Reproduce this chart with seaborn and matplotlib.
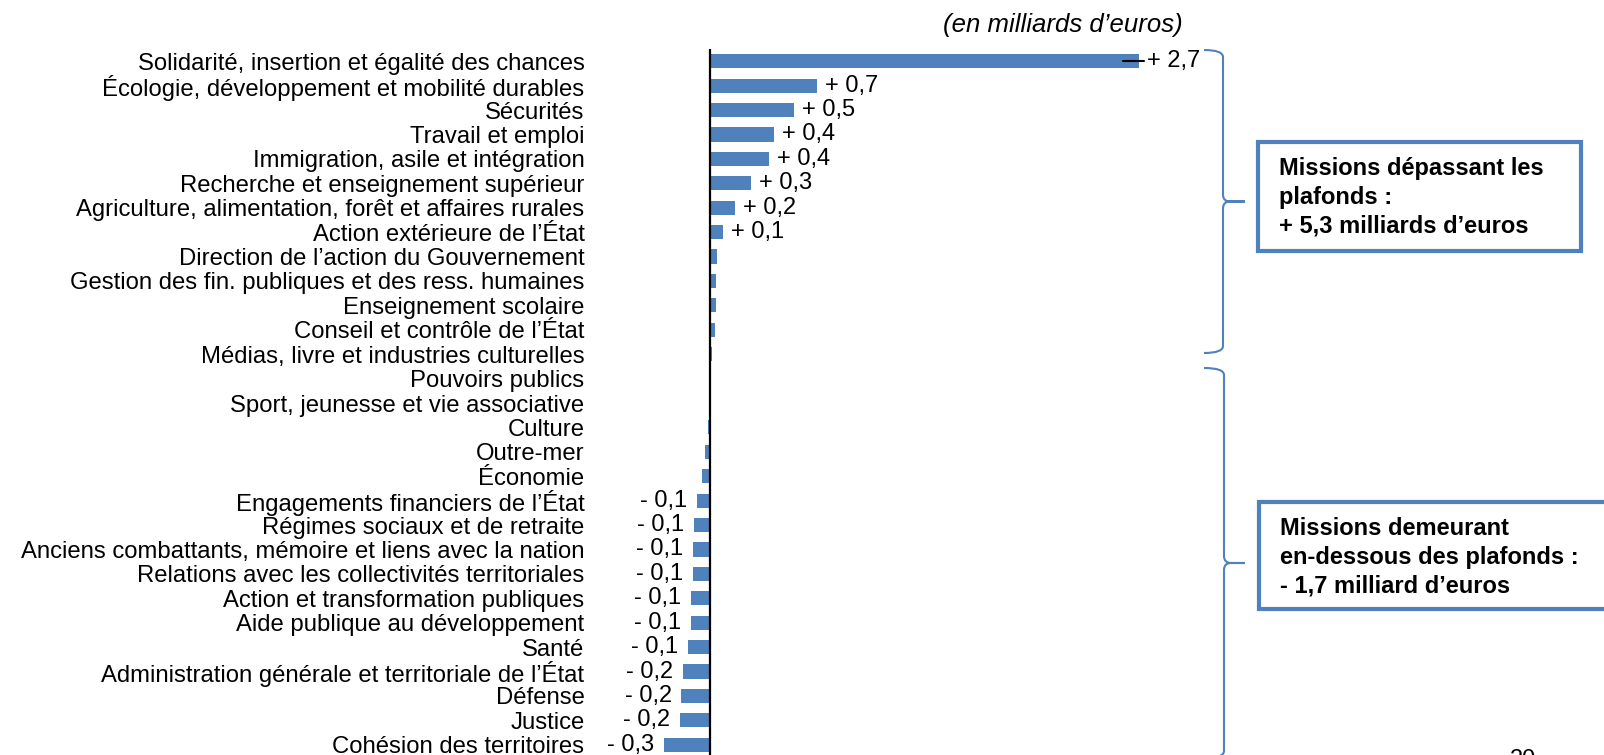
import matplotlib
matplotlib.use("Agg")
import matplotlib.pyplot as plt
import seaborn as sns
import pandas as pd
from matplotlib.path import Path
from matplotlib.patches import PathPatch, Rectangle

# ---------------- data ----------------
categories = [
    "Solidarité, insertion et égalité des chances",
    "Écologie, développement et mobilité durables",
    "Sécurités",
    "Travail et emploi",
    "Immigration, asile et intégration",
    "Recherche et enseignement supérieur",
    "Agriculture, alimentation, forêt et affaires rurales",
    "Action extérieure de l’État",
    "Direction de l’action du Gouvernement",
    "Gestion des fin. publiques et des ress. humaines",
    "Enseignement scolaire",
    "Conseil et contrôle de l’État",
    "Médias, livre et industries culturelles",
    "Pouvoirs publics",
    "Sport, jeunesse et vie associative",
    "Culture",
    "Outre-mer",
    "Économie",
    "Engagements financiers de l’État",
    "Régimes sociaux et de retraite",
    "Anciens combattants, mémoire et liens avec la nation",
    "Relations avec les collectivités territoriales",
    "Action et transformation publiques",
    "Aide publique au développement",
    "Santé",
    "Administration générale et territoriale de l’État",
    "Défense",
    "Justice",
    "Cohésion des territoires",
]
values = [2.70, 0.67, 0.53, 0.40, 0.37, 0.26, 0.16, 0.08, 0.045, 0.04, 0.04,
          0.03, 0.013, 0.0, 0.0, -0.01, -0.033, -0.048, -0.08, -0.10, -0.105,
          -0.11, -0.12, -0.12, -0.14, -0.17, -0.18, -0.19, -0.29]

title_text = "(en milliards d’euros)"
box1_lines = ["Missions dépassant les", "plafonds :", "+ 5,3 milliards d’euros"]
box2_lines = ["Missions demeurant", "en-dessous des plafonds :", "- 1,7 milliard d’euros"]
page_number = "20"

BLUE = "#4F81BD"

# ---------------- figure ----------------
sns.set_theme(style="white")
plt.rcParams['font.family'] = ['Liberation Sans', 'DejaVu Sans']

W, H = 1604, 755
fig = plt.figure(figsize=(W / 100, H / 100), dpi=100)


def fx(px):
    return px / W


def fy(py):
    return 1 - py / H


ax = fig.add_axes([fx(590), fy(757), fx(1200) - fx(590), fy(49) - fy(757)])
df = pd.DataFrame({"mission": categories, "ecart": values})
sns.barplot(data=df, x="ecart", y="mission", orient="h", color=BLUE,
            saturation=1, width=0.58, linewidth=0, ax=ax)

zero_px, unit_px = 710, 159.0
ax.set_xlim((590 - zero_px) / unit_px, (1200 - zero_px) / unit_px)
ax.set_ylim(len(categories) - 0.5, -0.5)
for s in ax.spines.values():
    s.set_visible(False)
ax.axvline(0, color="black", lw=1.6, zorder=3)
ax.set_xticks([])
ax.set_xlabel("")
ax.set_ylabel("")
ax.tick_params(axis="y", length=0, pad=4, labelsize=17.2, labelcolor="black")

# value labels
vmax = max(values)
for i, v in enumerate(values):
    r = round(v, 1)
    if r == 0:
        continue
    txt = ("+ " if r > 0 else "- ") + f"{abs(r):.1f}".replace(".", ",")
    if r > 0:
        ax.annotate(txt, (v, i), xytext=(5.8, 0), textcoords="offset points",
                    ha="left", va="center", fontsize=17, color="black")
    else:
        ax.annotate(txt, (v, i), xytext=(-7, 0), textcoords="offset points",
                    ha="right", va="center", fontsize=17, color="black")
    if v == vmax:
        ax.plot([v - 0.1, v + 0.03], [i, i], color="black", lw=1.5, zorder=4)

# title
fig.text(fx(1183), fy(25), title_text, ha="right", va="center",
         style="italic", fontsize=18.5, color="black")


# braces
def brace(x_tip, x_line, x_point, y_top, y_bot, r=7):
    y_mid = (y_top + y_bot) / 2
    pts = [
        (x_tip, y_top), (x_line, y_top), (x_line, y_top + r),
        (x_line, y_mid - r), (x_line, y_mid), (x_line + r, y_mid),
        (x_point, y_mid),
        (x_line + r, y_mid), (x_line, y_mid), (x_line, y_mid + r),
        (x_line, y_bot - r), (x_line, y_bot), (x_tip, y_bot),
    ]
    codes = [Path.MOVETO, Path.CURVE3, Path.CURVE3,
             Path.LINETO, Path.CURVE3, Path.CURVE3,
             Path.LINETO,
             Path.LINETO, Path.CURVE3, Path.CURVE3,
             Path.LINETO, Path.CURVE3, Path.CURVE3]
    verts = [(fx(x), fy(y)) for x, y in pts]
    fig.add_artist(PathPatch(Path(verts, codes), transform=fig.transFigure,
                             facecolor="none", edgecolor=BLUE, lw=1.5))


brace(1204, 1223, 1245, 50, 353)
brace(1204, 1224, 1245, 368, 758)


# boxes
def box(x0, y0, x1, y1, lines, baselines):
    fig.add_artist(Rectangle((fx(x0), fy(y1)), fx(x1) - fx(x0), fy(y0) - fy(y1),
                             transform=fig.transFigure, facecolor="white",
                             edgecolor=BLUE, lw=3))
    for t, b in zip(lines, baselines):
        fig.text(fx(x0 + 21), fy(b), t, ha="left", va="baseline",
                 fontsize=17, fontweight="bold", color="black")


box(1258, 142, 1581, 251, box1_lines, [175, 204, 233])
box(1259, 502, 1660, 609, box2_lines, [535, 564, 592])

fig.text(fx(1510), fy(749), page_number, ha="left", va="top",
         fontsize=17, color="black")

fig.savefig("out.png", dpi=100)
